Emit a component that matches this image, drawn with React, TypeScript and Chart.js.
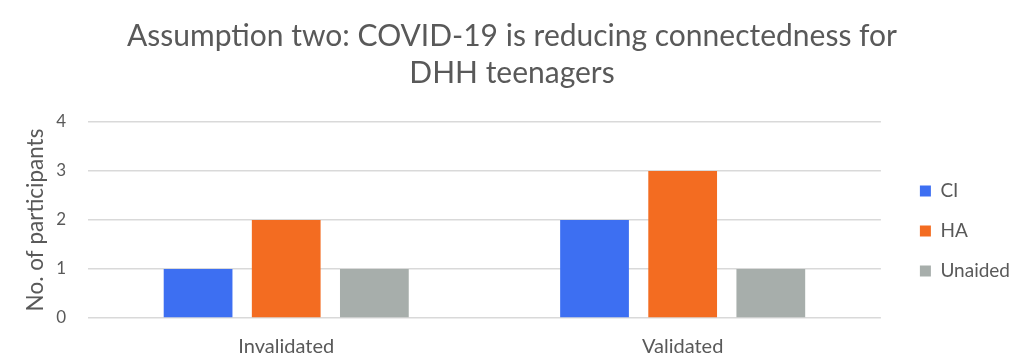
import React, { useEffect, useRef } from "react";
import { Chart, registerables } from "chart.js";

Chart.register(...registerables);

const categories = ["Invalidated", "Validated"];
const seriesNames = ["CI", "HA", "Unaided"];
const ciValues = [1, 2];
const haValues = [2, 3];
const unaidedValues = [1, 1];
const colors = ["#3d6ff2", "#f36c21", "#a7aeab"];
const titleLines = ["Assumption two: COVID-19 is reducing connectedness for", "DHH teenagers"];
const yTitle = "No. of participants";

const FONT = "Lato, 'Open Sans', sans-serif";
const TEXT = "#595959";
const Y_AXIS_WIDTH = 66;
const X_AXIS_HEIGHT = 45;
const LEGEND_DX = 18;
const LEGEND_DY = 11;

const legendShift = {
  id: "legendShift",
  afterLayout(chart: any) {
    const l = chart.legend;
    if (!l) return;
    l.left += LEGEND_DX;
    l.right += LEGEND_DX;
    l.top += LEGEND_DY;
    l.bottom += LEGEND_DY;
  },
};

export default function App() {
  const ref = useRef<HTMLCanvasElement | null>(null);
  useEffect(() => {
    document.body.style.margin = "0";
    const ctx = ref.current!;
    const chart = new Chart(ctx, {
      type: "bar",
      data: {
        labels: categories,
        datasets: [ciValues, haValues, unaidedValues].map((d, i) => ({
          label: seriesNames[i],
          data: d,
          backgroundColor: colors[i],
          borderWidth: 0,
          categoryPercentage: 0.667,
          barPercentage: 0.78,
        })),
      },
      plugins: [legendShift],
      options: {
        animation: false,
        responsive: false,
        maintainAspectRatio: false,
        layout: { autoPadding: false, padding: { left: 22, right: 22, top: 18, bottom: 0 } },
        plugins: {
          title: {
            display: true,
            text: titleLines,
            color: TEXT,
            font: { family: FONT, size: 30, weight: "normal", lineHeight: 37 / 30 },
            padding: { top: 0, bottom: 30 },
          },
          legend: {
            position: "right",
            fullSize: false,
            labels: {
              boxWidth: 11,
              boxHeight: 11,
              padding: 21,
              color: TEXT,
              font: { family: FONT, size: 19 },
            },
          },
          tooltip: { enabled: false },
        },
        scales: {
          x: {
            grid: { display: false, drawTicks: false },
            border: { display: false },
            ticks: { color: TEXT, font: { family: FONT, size: 20 }, padding: 17 },
            afterFit: (s: any) => {
              s.height = X_AXIS_HEIGHT;
            },
          },
          y: {
            min: 0,
            max: 4,
            ticks: { stepSize: 1, color: TEXT, font: { family: FONT, size: 17 }, padding: 22 },
            grid: { color: "#d9d9d9", lineWidth: 1.5, drawTicks: false },
            border: { display: false },
            title: {
              display: true,
              text: yTitle,
              color: TEXT,
              font: { family: FONT, size: 22.5 },
              padding: { top: 0, bottom: 0 },
            },
            afterFit: (s: any) => {
              s.width = Y_AXIS_WIDTH;
            },
          },
        },
      },
    });
    return () => chart.destroy();
  }, []);
  return <canvas ref={ref} width={1024} height={363} style={{ display: "block" }} />;
}
